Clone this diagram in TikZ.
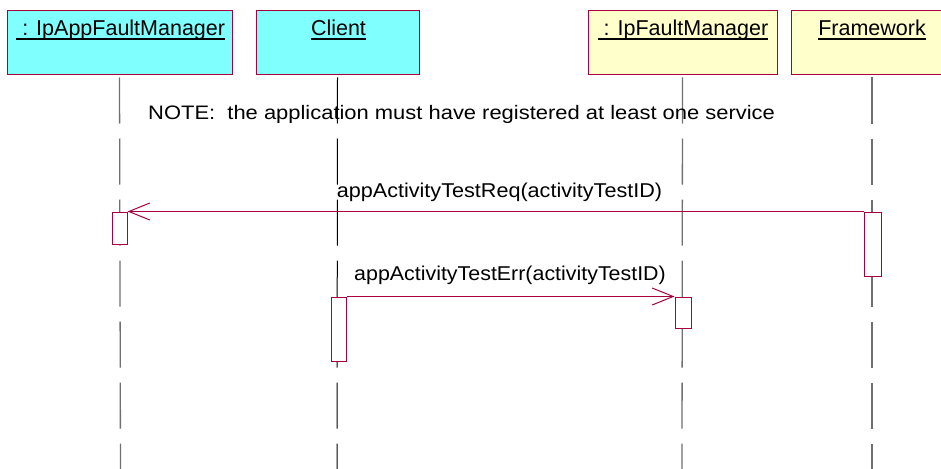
\documentclass[tikz,border=0pt]{standalone}
\usepackage{fontspec}
\setmainfont{Liberation Sans}
\usetikzlibrary{arrows.meta}
\definecolor{crim}{HTML}{A8003C}
\definecolor{cyanfill}{HTML}{80FFFF}
\definecolor{yelfill}{HTML}{FFFFCC}
\definecolor{lifegray}{HTML}{707070}
\tikzset{
  objbox/.style={draw=crim, line width=1pt, minimum height=64pt, inner sep=0pt, anchor=center},
  objlabel/.style={font=\fontsize{21.5}{24}\selectfont, inner sep=0pt, anchor=base},
  lifeline/.style={draw=lifegray, line width=1.3pt, dash pattern=on 46pt off 15pt, dash phase=59pt},
  actbox/.style={draw=crim, fill=white, line width=1pt, inner sep=0pt, anchor=center},
  msg/.style={draw=crim, line width=1pt, -{Straight Barb[length=21pt,width=17pt,line width=1pt]}},
  msglabel/.style={font=\fontsize{20}{24}\selectfont, inner sep=0pt, anchor=base},
  uline/.style={line width=1.5pt, black}
}
\begin{document}
\begin{tikzpicture}[x=1pt,y=-1pt]
\useasboundingbox[fill=white] (0,0) rectangle (941,468);
% object boxes
\node[objbox, fill=cyanfill, minimum width=225pt] (b1) at (119.5,43) {};
\node[objbox, fill=cyanfill, minimum width=163pt] (b2) at (337.5,43) {};
\node[objbox, fill=yelfill, minimum width=189pt] (b3) at (682.5,43) {};
\node[objbox, fill=yelfill, minimum width=162pt] (b4) at (872,43) {};
% labels
\node[objlabel] (l1) at (120.7,36) {\ : IpAppFaultManager};
\node[objlabel] (l2) at (338.5,36) {Client};
\node[objlabel] (l3) at (683,36) {\ : IpFaultManager};
\node[objlabel] (l4) at (872,36) {Framework};
\foreach \l in {l1,l2,l3,l4}{
  \draw[uline] ([yshift=-3pt]\l.base west) -- ([yshift=-3pt]\l.base east);
}
% lifeline ends
\coordinate (e1) at (120.5,470);
\coordinate (e2) at (337,470);
\coordinate (e3) at (682,470);
\coordinate (e4) at (872,470);
\draw[lifeline] (b1.south) -- (e1);
\draw[lifeline, draw=black, line width=1pt] (b2.south) -- (e2);
\draw[lifeline] (b3.south) -- (e3);
\draw[lifeline] (b4.south) -- (e4);
% note
\node[msglabel, font=\fontsize{19.5}{24}\selectfont, anchor=base west] (note) at (148,119)
  {\scalebox{1.125}[1]{NOTE:\ \ the application must have registered at least one service}};
% activations
\node[actbox, minimum width=15pt, minimum height=32pt] (a1) at (119.5,228) {};
\node[actbox, minimum width=17pt, minimum height=64pt] (a4) at (872.5,244) {};
\node[actbox, minimum width=15pt, minimum height=64pt] (a2) at (338.5,329) {};
\node[actbox, minimum width=16pt, minimum height=31pt] (a3) at (683,312.5) {};
% messages
\draw[msg] (a4.north west) -- (a1.north east);
\draw[msg] (a2.north east) -- (a3.north west);
\node[msglabel] (m1) at (499.5,197.7) {\scalebox{1.08}[1]{appActivityTestReq(activityTestID)}};
\node[msglabel] (m2) at (510,280.7) {\scalebox{1.07}[1]{appActivityTestErr(activityTestID)}};
\end{tikzpicture}
\end{document}
